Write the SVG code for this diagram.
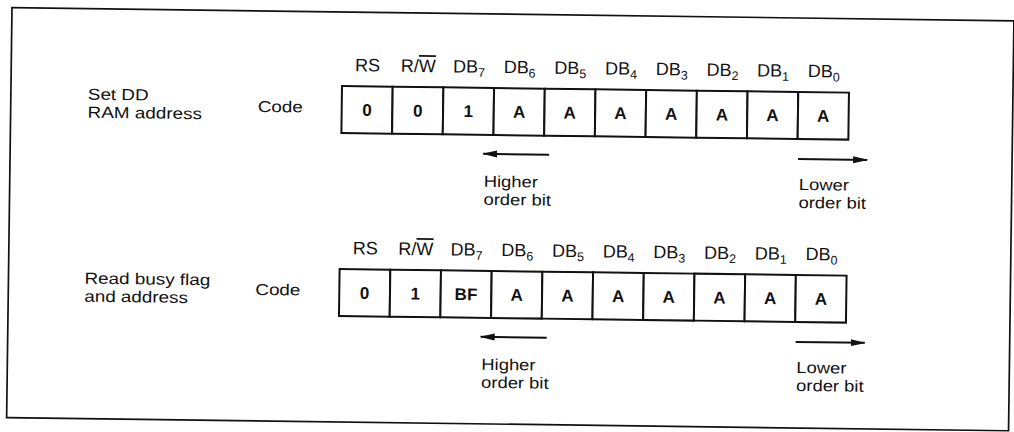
<svg xmlns="http://www.w3.org/2000/svg" width="1014" height="432" viewBox="0 0 1014 432">
<defs>
<style>
text{font-family:"Liberation Sans",Arial,Helvetica,sans-serif;fill:#111}
.lbl{font-size:16px}
.hdr{font-size:18px;text-anchor:middle}
.sub{font-size:12.5px}
.val{font-size:17px;font-weight:bold;text-anchor:middle}
.cell{fill:#fff;stroke:#111;stroke-width:2}
.frame{fill:none;stroke:#111;stroke-width:1.7}
.arr{stroke:#111;stroke-width:2;fill:none}
</style>
<marker id="ah" markerWidth="15" markerHeight="9" refX="14" refY="4.5" orient="auto" markerUnits="userSpaceOnUse"><path d="M0,1 L15,4.5 L0,8 z" fill="#111"/></marker>
</defs>
<rect width="1014" height="432" fill="#fff"/>
<g transform="rotate(0.75 342 86)">
<rect id="frame" class="frame" x="11" y="12" width="1002" height="410"/>

<g id="set-dd-ram-address">
<text class="lbl" transform="translate(88,103) scale(1.18 1)">Set DD</text>
<text class="lbl" transform="translate(88,121) scale(1.18 1)">RAM address</text>
<text class="lbl" transform="translate(258,113) scale(1.18 1)">Code</text>
<g id="code-row-1">
<rect class="cell" x="342" y="86" width="50.7" height="47"/>
<rect class="cell" x="392.7" y="86" width="50.7" height="47"/>
<rect class="cell" x="443.4" y="86" width="50.7" height="47"/>
<rect class="cell" x="494.1" y="86" width="50.7" height="47"/>
<rect class="cell" x="544.8" y="86" width="50.7" height="47"/>
<rect class="cell" x="595.5" y="86" width="50.7" height="47"/>
<rect class="cell" x="646.2" y="86" width="50.7" height="47"/>
<rect class="cell" x="696.9" y="86" width="50.7" height="47"/>
<rect class="cell" x="747.6" y="86" width="50.7" height="47"/>
<rect class="cell" x="798.3" y="86" width="50.7" height="47"/>
<text class="val" x="367.35" y="115.5">0</text>
<text class="val" x="418.05" y="115.5">0</text>
<text class="val" x="468.75" y="115.5">1</text>
<text class="val" x="519.45" y="115.5">A</text>
<text class="val" x="570.15" y="115.5">A</text>
<text class="val" x="620.85" y="115.5">A</text>
<text class="val" x="671.55" y="115.5">A</text>
<text class="val" x="722.25" y="115.5">A</text>
<text class="val" x="772.95" y="115.5">A</text>
<text class="val" x="823.65" y="115.5">A</text>
</g>
<g id="header-row-1">
<text class="hdr" x="367.35" y="71">RS</text>
<text class="hdr" x="418.05" y="71">R/<tspan text-decoration="overline">W</tspan></text>
<text class="hdr" x="468.75" y="71">DB<tspan class="sub" dy="4">7</tspan></text>
<text class="hdr" x="519.45" y="71">DB<tspan class="sub" dy="4">6</tspan></text>
<text class="hdr" x="570.15" y="71">DB<tspan class="sub" dy="4">5</tspan></text>
<text class="hdr" x="620.85" y="71">DB<tspan class="sub" dy="4">4</tspan></text>
<text class="hdr" x="671.55" y="71">DB<tspan class="sub" dy="4">3</tspan></text>
<text class="hdr" x="722.25" y="71">DB<tspan class="sub" dy="4">2</tspan></text>
<text class="hdr" x="772.95" y="71">DB<tspan class="sub" dy="4">1</tspan></text>
<text class="hdr" x="823.65" y="71">DB<tspan class="sub" dy="4">0</tspan></text>
</g>
<text class="lbl" transform="translate(485,185) scale(1.15 1)">Higher</text>
<text class="lbl" transform="translate(485,203) scale(1.15 1)">order bit</text>
<text class="lbl" transform="translate(800,184) scale(1.15 1)">Lower</text>
<text class="lbl" transform="translate(800,202) scale(1.15 1)">order bit</text>
</g>

<g id="read-busy-flag-and-address" transform="translate(0,183)">
<text class="lbl" transform="translate(87,104) scale(1.18 1)">Read busy flag</text>
<text class="lbl" transform="translate(87,122) scale(1.18 1)">and address</text>
<text class="lbl" transform="translate(258,113) scale(1.18 1)">Code</text>
<g id="code-row-2">
<rect class="cell" x="342" y="86" width="50.7" height="47"/>
<rect class="cell" x="392.7" y="86" width="50.7" height="47"/>
<rect class="cell" x="443.4" y="86" width="50.7" height="47"/>
<rect class="cell" x="494.1" y="86" width="50.7" height="47"/>
<rect class="cell" x="544.8" y="86" width="50.7" height="47"/>
<rect class="cell" x="595.5" y="86" width="50.7" height="47"/>
<rect class="cell" x="646.2" y="86" width="50.7" height="47"/>
<rect class="cell" x="696.9" y="86" width="50.7" height="47"/>
<rect class="cell" x="747.6" y="86" width="50.7" height="47"/>
<rect class="cell" x="798.3" y="86" width="50.7" height="47"/>
<text class="val" x="367.35" y="115.5">0</text>
<text class="val" x="418.05" y="115.5">1</text>
<text class="val" x="468.75" y="115.5">BF</text>
<text class="val" x="519.45" y="115.5">A</text>
<text class="val" x="570.15" y="115.5">A</text>
<text class="val" x="620.85" y="115.5">A</text>
<text class="val" x="671.55" y="115.5">A</text>
<text class="val" x="722.25" y="115.5">A</text>
<text class="val" x="772.95" y="115.5">A</text>
<text class="val" x="823.65" y="115.5">A</text>
</g>
<g id="header-row-2">
<text class="hdr" x="367.35" y="71">RS</text>
<text class="hdr" x="418.05" y="71">R/<tspan text-decoration="overline">W</tspan></text>
<text class="hdr" x="468.75" y="71">DB<tspan class="sub" dy="4">7</tspan></text>
<text class="hdr" x="519.45" y="71">DB<tspan class="sub" dy="4">6</tspan></text>
<text class="hdr" x="570.15" y="71">DB<tspan class="sub" dy="4">5</tspan></text>
<text class="hdr" x="620.85" y="71">DB<tspan class="sub" dy="4">4</tspan></text>
<text class="hdr" x="671.55" y="71">DB<tspan class="sub" dy="4">3</tspan></text>
<text class="hdr" x="722.25" y="71">DB<tspan class="sub" dy="4">2</tspan></text>
<text class="hdr" x="772.95" y="71">DB<tspan class="sub" dy="4">1</tspan></text>
<text class="hdr" x="823.65" y="71">DB<tspan class="sub" dy="4">0</tspan></text>
</g>
<text class="lbl" transform="translate(485,185) scale(1.15 1)">Higher</text>
<text class="lbl" transform="translate(485,203) scale(1.15 1)">order bit</text>
<text class="lbl" transform="translate(800,184) scale(1.15 1)">Lower</text>
<text class="lbl" transform="translate(800,202) scale(1.15 1)">order bit</text>
</g>

<g id="connectors">
<line class="arr" x1="550" y1="152" x2="484" y2="152" marker-end="url(#ah)"/>
<line class="arr" x1="799" y1="153" x2="868" y2="153" marker-end="url(#ah)"/>
<line class="arr" x1="550" y1="335" x2="484" y2="335" marker-end="url(#ah)"/>
<line class="arr" x1="799" y1="336" x2="868" y2="336" marker-end="url(#ah)"/>
</g>
</g>
</svg>
